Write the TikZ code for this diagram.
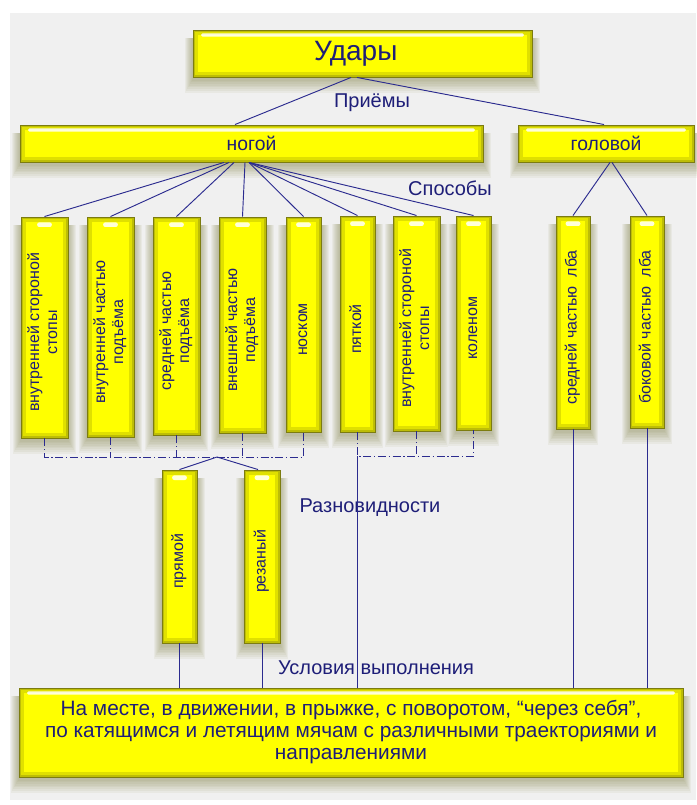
\documentclass[tikz,border=0pt]{standalone}
\usepackage{fontspec}
\setmainfont{Liberation Sans}
\usepackage{graphicx}
\definecolor{boxedge}{HTML}{7C7C10}
\definecolor{boxouter}{HTML}{BDBD06}
\definecolor{boxmid}{HTML}{E0E000}
\definecolor{boxinner}{HTML}{FFFF00}
\definecolor{txt}{HTML}{1E1E78}
\definecolor{lnc}{HTML}{2B2B8F}
\definecolor{paper}{HTML}{F0F0F0}
\definecolor{shcol}{HTML}{8C8C50}
\pgfdeclarelayer{bg}
\pgfsetlayers{bg,main}
\def\px{0.75pt}
\newcommand\vtext[1]{\rotatebox{90}{\kern-7.5pt\fontsize{12}{13.5}\selectfont\begin{tabular}{@{}c@{}}#1\end{tabular}}}
\newcommand\yshadow[1]{\foreach \i in {1,...,8}{\fill[shcol, opacity=0.08] ([shift={(-\i*0.7pt,-1pt-\i*1.3pt)}]#1.south west) rectangle ([shift={(\i*0.7pt,-6pt)}]#1.north east);}}
\tikzset{
  ybase/.style={draw=boxedge, line width=0.7pt, fill=boxouter, inner sep=0pt, text=txt, align=center},
  hbox/.style={ybase, path picture={
     \fill[boxmid] ([shift={(1.5pt,1.5pt)}]path picture bounding box.south west) rectangle ([shift={(-1.5pt,-1.5pt)}]path picture bounding box.north east);
     \fill[boxinner] ([shift={(3.5pt,3.5pt)}]path picture bounding box.south west) rectangle ([shift={(-3.5pt,-3.5pt)}]path picture bounding box.north east);
     \fill[white, opacity=.85, rounded corners=1.2pt] ([shift={(6pt,-2.5pt)}]path picture bounding box.north west) rectangle ([shift={(-6pt,-5pt)}]path picture bounding box.north east);
  }},
  vbox/.style={ybase, path picture={
     \fill[boxmid] ([shift={(1.5pt,1.5pt)}]path picture bounding box.south west) rectangle ([shift={(-1.5pt,-1.5pt)}]path picture bounding box.north east);
     \fill[boxinner] ([shift={(3.5pt,3.5pt)}]path picture bounding box.south west) rectangle ([shift={(-3.5pt,-3.5pt)}]path picture bounding box.north east);
     \fill[white, opacity=.85, rounded corners=1.6pt] ([shift={(-5.5pt,-4pt)}]path picture bounding box.north) rectangle ([shift={(5.5pt,-7.5pt)}]path picture bounding box.north);
  }},
  conn/.style={draw=lnc, line width=0.7pt},
  dconn/.style={conn, dash pattern=on 6pt off 2pt on 1pt off 2pt},
  lbl/.style={text=txt, font=\fontsize{15}{18}\selectfont, inner sep=0pt},
}
\begin{document}
\begin{tikzpicture}[x=0.75pt, y=-0.75pt]
\useasboundingbox (0,0) rectangle (696,805);
\begin{pgfonlayer}{bg}
\fill[white] (0,0) rectangle (696,805);
\fill[paper] (10,13) rectangle (696,800);
\end{pgfonlayer}

% top level
\node[hbox, minimum width=339*\px, minimum height=47*\px, font=\fontsize{21}{24}\selectfont] (udary) at (362.5,53.5) {\kern-10pt Удары};
\node[hbox, minimum width=463*\px, minimum height=37*\px, font=\fontsize{14.5}{17}\selectfont] (nogoy) at (251.5,143.5) {ногой};
\node[hbox, minimum width=176*\px, minimum height=37*\px, font=\fontsize{14.5}{17}\selectfont] (golovoy) at (606,143.5) {головой};

% methods
\node[vbox, minimum width=47*\px, minimum height=221*\px] (b1) at (44.5,327.5) {\vtext{внутренней стороной\\стопы}};
\node[vbox, minimum width=47*\px, minimum height=220*\px] (b2) at (110.5,327) {\vtext{внутренней частью\\подъёма}};
\node[vbox, minimum width=47*\px, minimum height=218*\px] (b3) at (176.5,326) {\vtext{средней частью\\подъёма}};
\node[vbox, minimum width=47*\px, minimum height=216*\px] (b4) at (242.5,325) {\vtext{внешней частью\\подъёма}};
\node[vbox, minimum width=35*\px, minimum height=215*\px] (b5) at (303.5,324.5) {\vtext{носком}};
\node[vbox, minimum width=35*\px, minimum height=216*\px] (b6) at (357.5,324) {\vtext{пяткой}};
\node[vbox, minimum width=47*\px, minimum height=215*\px] (b7) at (416.5,323.5) {\vtext{внутренней стороной\\стопы}};
\node[vbox, minimum width=35*\px, minimum height=214*\px] (b8) at (473.5,323) {\vtext{коленом}};
\node[vbox, minimum width=34*\px, minimum height=213*\px] (b9) at (573,322.5) {\vtext{средней частью\ \ лба}};
\node[vbox, minimum width=34*\px, minimum height=212*\px] (b10) at (647,322) {\vtext{боковой частью\ \ лба}};

% varieties
\node[vbox, minimum width=35*\px, minimum height=173*\px] (pryam) at (179.5,556.5) {\vtext{прямой}};
\node[vbox, minimum width=36*\px, minimum height=173*\px] (rez) at (262,556.5) {\vtext{резаный}};

% conditions
\node[hbox, minimum width=664*\px, minimum height=89*\px, font=\fontsize{15.6}{16.5}\selectfont] (cond) at (351,732.5)
  {На месте, в движении, в прыжке, с поворотом, “через себя”,\\по катящимся и летящим мячам с различными траекториями и\\направлениями};

% soft shadows
\begin{pgfonlayer}{bg}
\foreach \n in {udary,nogoy,golovoy,b1,b2,b3,b4,b5,b6,b7,b8,b9,b10,pryam,rez,cond}{\yshadow{\n}}
\end{pgfonlayer}

% labels
\node[lbl] (lpriem) at (372,103) {Приёмы};
\node[lbl] (lspos) at (450,188) {Способы};
\node[lbl] (lraz) at (370,508) {Разновидности};
\node[lbl] (lusl) at (376,668) {Условия выполнения};

% connectors: top
\draw[conn] ([xshift=-11.5*\px]udary.south) -- ([xshift=-16.5*\px]nogoy.north);
\draw[conn] ([xshift=-5.5*\px]udary.south) -- ([xshift=-2*\px]golovoy.north);

% fan from ногой
\draw[conn] ([xshift=-27.5*\px]nogoy.south) -- (b1.north);
\draw[conn] ([xshift=-22.5*\px]nogoy.south) -- (b2.north);
\draw[conn] ([xshift=-17.5*\px]nogoy.south) -- (b3.north);
\draw[conn] ([xshift=-6.5*\px]nogoy.south) -- (b4.north);
\draw[conn] ([xshift=-2.5*\px]nogoy.south) -- (b5.north);
\draw[conn] ([xshift=-2.5*\px]nogoy.south) -- (b6.north);
\draw[conn] ([xshift=-2.5*\px]nogoy.south) -- (b7.north);
\draw[conn] ([xshift=-2.5*\px]nogoy.south) -- (b8.north);

% from головой
\draw[conn] ([xshift=4*\px]golovoy.south) -- (b9.north);
\draw[conn] ([xshift=6*\px]golovoy.south) -- (b10.north);

% brackets
\coordinate (brL) at (217,457);
\coordinate (brR) at (357,456);
\draw[dconn] (b1.south) -- (b1.south |- brL) -- (b5.south |- brL) -- (b5.south);
\draw[dconn] (b2.south) -- (b2.south |- brL);
\draw[dconn] (b3.south) -- (b3.south |- brL);
\draw[dconn] (b4.south) -- (b4.south |- brL);
\draw[conn] (brL) -- (pryam.north);
\draw[conn] (brL) -- ([xshift=-4*\px]rez.north);

\draw[dconn] (b6.south) -- (b6.south |- brR) -- (b8.south |- brR) -- (b8.south);
\draw[dconn] (b7.south) -- (b7.south |- brR);
\draw[conn] (b6.south |- brR) -- (b6.south |- cond.north);

% down to conditions
\draw[conn] (pryam.south) -- (pryam.south |- cond.north);
\draw[conn] (rez.south) -- (rez.south |- cond.north);
\draw[conn] (b9.south) -- (b9.south |- cond.north);
\draw[conn] (b10.south) -- (b10.south |- cond.north);
\end{tikzpicture}
\end{document}
